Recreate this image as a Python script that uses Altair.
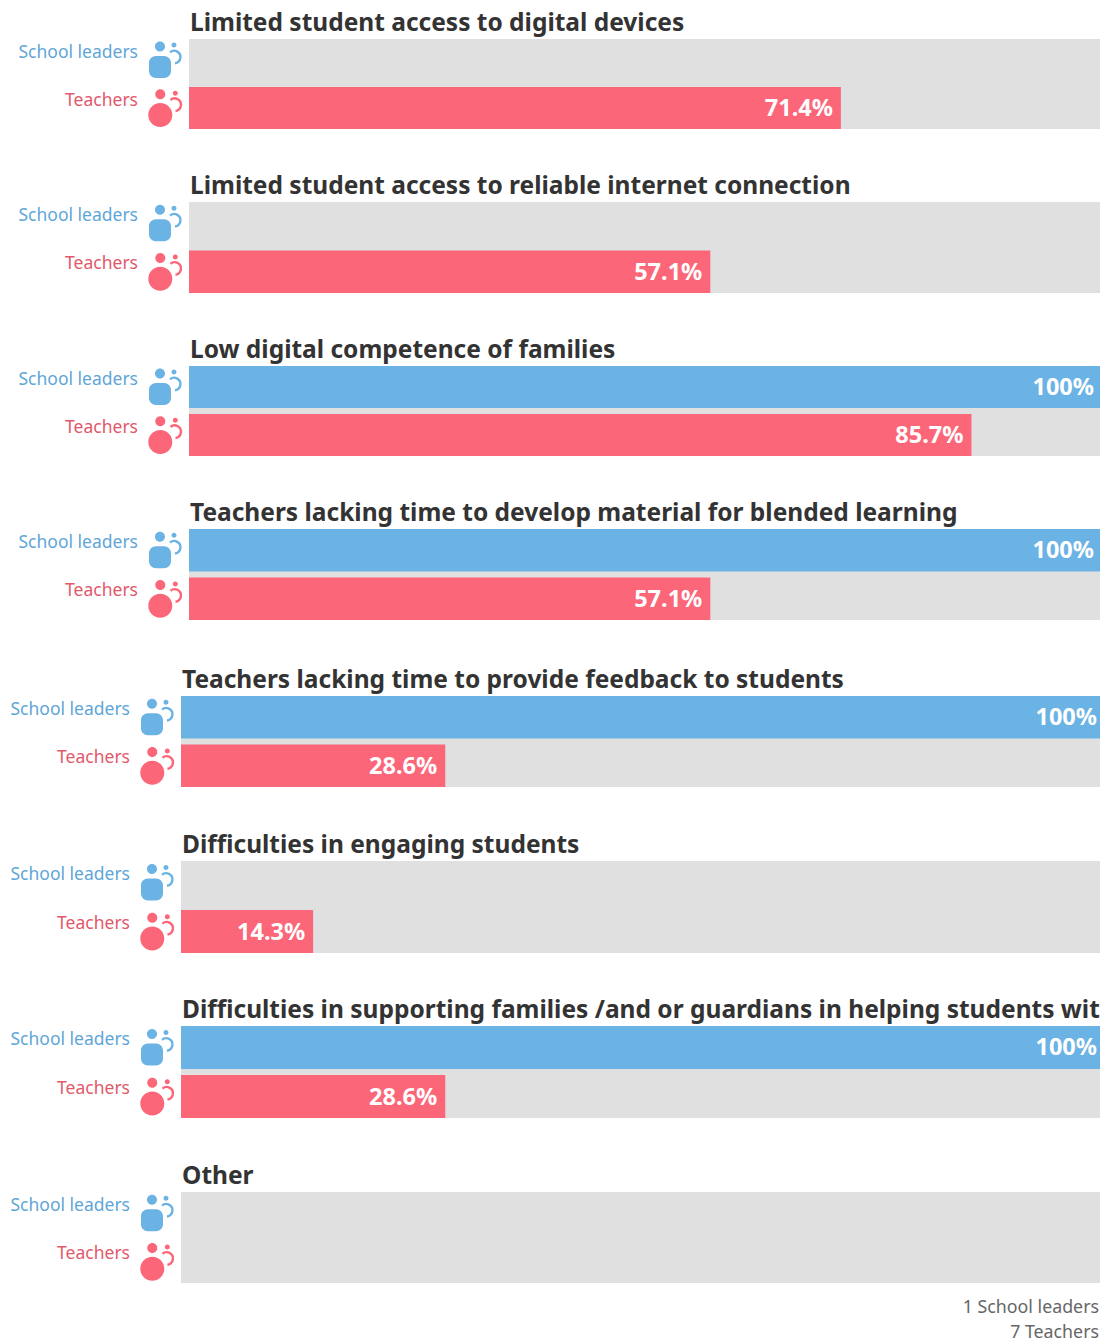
import altair as alt
import pandas as pd

QUESTIONS = [
    "Limited student access to digital devices",
    "Limited student access to reliable internet connection",
    "Low digital competence of families",
    "Teachers lacking time to develop material for blended learning",
    "Teachers lacking time to provide feedback to students",
    "Difficulties in engaging students",
    "Difficulties in supporting families /and or guardians in helping students with",
    "Other",
]
ROLES = ["School leaders", "Teachers"]
SCHOOL = [None, None, 100, 100, 100, None, 100, None]
TEACHERS = [71.4, 57.1, 85.7, 57.1, 28.6, 14.3, 28.6, None]
VALUE_TEXT_S = [None, None, "100%", "100%", "100%", None, "100%", None]
VALUE_TEXT_T = ["71.4%", "57.1%", "85.7%", "57.1%", "28.6%", "14.3%", "28.6%", None]
FOOT = ["1 School leaders", "7 Teachers"]

FONT = "Noto Sans"
BLUE, RED = "#6bb3e4", "#fc6679"
BLUE_T, RED_T = "#5fa6d8", "#e2596c"
GREY = "#e0e0e0"

# page layout: gap above each block of bars, block height, plot left / right
GAPS = [31, 73, 73, 73, 76, 74, 73, 74]
HEIGHTS = [90, 91, 90, 91, 91, 92, 92, 91]
LEFT = [181, 181, 181, 181, 173, 173, 173, 173]
RIGHT = [1094, 1094, 1094, 1094, 1097, 1097, 1097, 1097]
WIDTH = 1092

K = 18.0


def n(v):
    return f"{v / K:.4f}"


def arc(r, large, sweep, x, y):
    return f"A {n(r)} {n(r)} 0 {large} {sweep} {n(x)} {n(y)}"


def circ(cx, cy, r):
    return f"M {n(cx - r)} {n(cy)} {arc(r, 1, 1, cx + r, cy)} {arc(r, 1, 1, cx - r, cy)} Z"


def rrect(x0, y0, x1, y1, r):
    return (f"M {n(x0 + r)} {n(y0)} L {n(x1 - r)} {n(y0)} {arc(r, 0, 1, x1, y0 + r)} "
            f"L {n(x1)} {n(y1 - r)} {arc(r, 0, 1, x1 - r, y1)} "
            f"L {n(x0 + r)} {n(y1)} {arc(r, 0, 1, x0, y1 - r)} "
            f"L {n(x0)} {n(y0 + r)} {arc(r, 0, 1, x0 + r, y0)} Z")


LEADER = " ".join([circ(-5, -13.5, 5), rrect(-16, -4, 6, 18, 7), circ(9, -15, 2.5)])
TEACHER = " ".join([circ(-4.7, -13.7, 5), circ(-4.7, 7, 12), circ(10.3, -14.7, 2.5)])
ARC_L = f"M {n(5)} {n(-7.7)} {arc(6.3, 1, 1, 10, 3.3)}"
ARC_T = f"M {n(5.5)} {n(-8)} {arc(6.3, 1, 1, 10.5, 3)}"


def panel(i):
    gap, h, x0, x1 = GAPS[i], HEIGHTS[i], LEFT[i], RIGHT[i]
    df = pd.DataFrame({
        "role": ROLES,
        "value": [SCHOOL[i], TEACHERS[i]],
        "text": [VALUE_TEXT_S[i], VALUE_TEXT_T[i]],
    })
    xs = alt.Scale(domain=[0, 100], range=[x0, x1], nice=False)
    ys = alt.Scale(domain=ROLES, range=[gap, gap + h], paddingInner=0.125, paddingOuter=0)
    cs = alt.Scale(domain=ROLES, range=[BLUE, RED])
    x = alt.X("value:Q", scale=xs, axis=None)
    y = alt.Y("role:N", scale=ys, axis=None, sort=ROLES)
    base = alt.Chart(df)
    vals = base.transform_filter("isValid(datum.value)")

    bg = alt.Chart(pd.DataFrame({"a": [0], "b": [100]})).mark_rect(color=GREY, clip=True).encode(
        x=alt.X("a:Q", scale=xs, axis=None), x2="b:Q", y=alt.value(gap), y2=alt.value(gap + h))
    bars = vals.mark_bar(clip=True).encode(
        x=x, y=y, color=alt.Color("role:N", scale=cs, legend=None))
    numbers = vals.mark_text(align="right", baseline="middle", dx=-8, dy=1, font=FONT, fontSize=23.5,
                             fontWeight="bold", color="white").encode(x=x, y=y, text="text:N")
    title = alt.Chart(pd.DataFrame({"t": [QUESTIONS[i]]})).mark_text(
        align="left", baseline="middle", font=FONT, fontSize=24.5, fontWeight="bold",
        color="#333333", clip=True).encode(
        x=alt.value(x0 + 1), y=alt.value(gap - 15), text="t:N")
    labels = base.mark_text(align="right", baseline="middle", font=FONT, fontSize=17.5, dy=-7.5).encode(
        x=alt.value(x0 - 51), y=y, text="role:N",
        color=alt.Color("role:N", scale=alt.Scale(domain=ROLES, range=[BLUE_T, RED_T]), legend=None))
    icons = []
    for role, shape, arc_path, col in [("School leaders", LEADER, ARC_L, BLUE), ("Teachers", TEACHER, ARC_T, RED)]:
        d = base.transform_filter(alt.datum.role == role)
        ix = alt.value(x0 - 24)
        icons.append(d.mark_point(shape=shape, filled=True, size=1296, color=col, opacity=1, strokeWidth=0).encode(x=ix, y=y))
        icons.append(d.mark_point(shape=arc_path, filled=False, size=1296, color=col, opacity=1, strokeWidth=2.4).encode(x=ix, y=y))
    return alt.layer(bg, bars, numbers, title, labels, *icons).resolve_scale(color="independent").properties(
        width=WIDTH, height=gap + h)


foot_df = pd.DataFrame({"t": FOOT, "row": ["a", "b"]})
foot = alt.Chart(foot_df).mark_text(align="right", baseline="middle", font=FONT, fontSize=17.8, color="#666666").encode(
    x=alt.value(WIDTH - 1),
    y=alt.Y("row:N", axis=None, scale=alt.Scale(domain=["a", "b"], range=[12, 62], paddingInner=0, paddingOuter=0)),
    text="t:N",
).properties(width=WIDTH, height=62)

chart = alt.vconcat(*[panel(i) for i in range(len(QUESTIONS))], foot, spacing=0).properties(
    padding=0, background="white"
).configure_view(stroke=None)

chart.save("out.html", embed_options={"renderer": "svg", "actions": False})
